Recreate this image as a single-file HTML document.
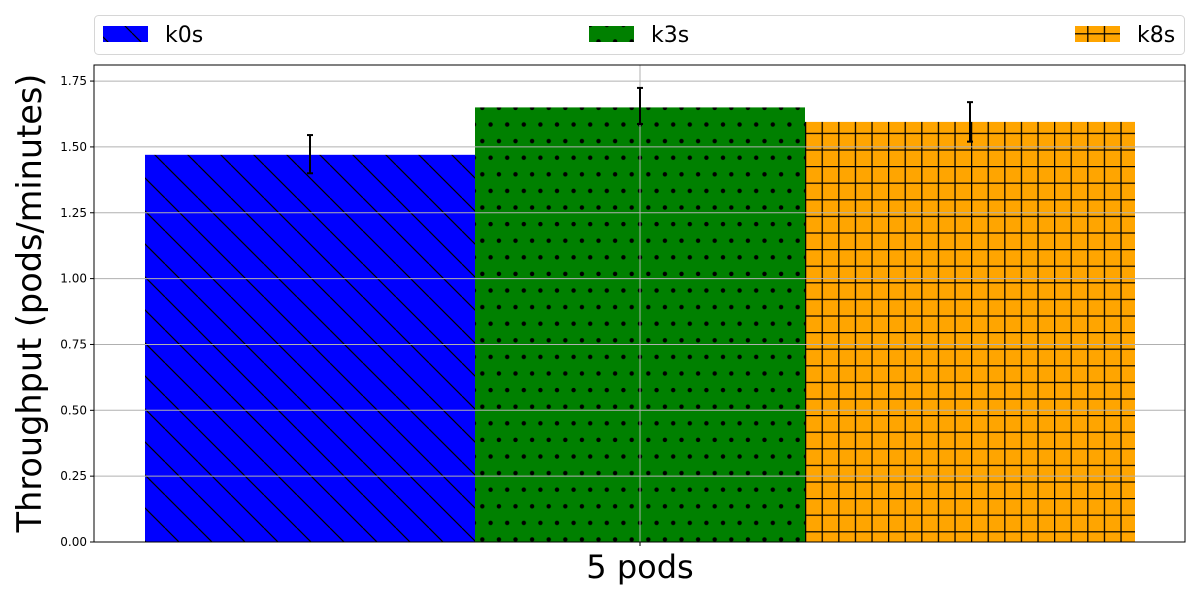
<!DOCTYPE html>
<html><head><meta charset="utf-8"><style>body{margin:0;background:#fff}svg{display:block;font-family:"DejaVu Sans","Liberation Sans",sans-serif}</style></head>
<body>
<svg id="c" width="1200" height="600">
<defs>
<pattern id="pk0" patternUnits="userSpaceOnUse" width="33" height="33"><rect width="33" height="33" fill="#0000ff"/><path d="M0,0L33,33M-33,0L0,33M33,0L66,33" stroke="#000" stroke-width="1.2"/></pattern>
<pattern id="pk3" patternUnits="userSpaceOnUse" x="474" y="0" width="16.6" height="33.2"><rect width="16.6" height="33.2" fill="#008000"/><circle cx="8.3" cy="8.3" r="2.2" fill="#000"/><circle cx="0" cy="24.9" r="2.2" fill="#000"/><circle cx="16.6" cy="24.9" r="2.2" fill="#000"/></pattern>
<pattern id="pk8" patternUnits="userSpaceOnUse" x="805" y="0" width="16.6" height="16.6"><rect width="16.6" height="16.6" fill="#ffa500"/><path d="M0.6,0V16.6M0,0.6H16.6" stroke="#000" stroke-width="1.3"/></pattern>
</defs>
<g id="plot"></g>
</svg>
<script>
const categories=["5 pods"];
const series=["k0s","k3s","k8s"];
const values=[1.47,1.65,1.595];
const errLow=[1.40,1.587,1.52];
const errHigh=[1.545,1.724,1.67];
const yTicks=[0,0.25,0.5,0.75,1.0,1.25,1.5,1.75];
const fills=["url(#pk0)","url(#pk3)","url(#pk8)"];
const legendFills=["url(#pk0)","url(#pk3)","url(#pk8)"];
const NS="http://www.w3.org/2000/svg";
const svg=document.getElementById('c');
const L=94,R=1185,T=65,B=542,ymax=1.811;
const y=v=>B-v/ymax*(B-T);
const groupC=640,barW=330;
const x=i=>groupC+(i-1)*barW-barW/2;
function el(t,a,p){const e=document.createElementNS(NS,t);for(const k in a)e.setAttribute(k,a[k]);(p||svg).appendChild(e);return e;}
series.forEach((s,i)=>{
 const r=el('rect',{x:x(i),y:y(values[i]),width:barW,height:B-y(values[i]),fill:fills[i]});
 
 
});
yTicks.forEach(t=>{
 const g=el('line',{x1:L,x2:R,y1:y(t),y2:y(t),stroke:'#b0b0b0','stroke-width':1});
 
 
 const tk=el('line',{x1:L-4,x2:L,y1:y(t),y2:y(t),stroke:'#000'});
 
 
 const tx=el('text',{x:L-7,y:y(t)+4,'text-anchor':'end','font-size':12});
 tx.textContent=t.toFixed(2);
 
 
});
const vg=el('line',{x1:groupC,x2:groupC,y1:T,y2:B,stroke:'#b0b0b0'});


series.forEach((s,i)=>{
 const cx=x(i)+barW/2;
 const g=el('g',{stroke:'#000','stroke-width':2});
 
 
 el('line',{x1:cx,x2:cx,y1:y(errLow[i]),y2:y(errHigh[i])},g);
 el('line',{x1:cx-3,x2:cx+3,y1:y(errLow[i]),y2:y(errLow[i])},g);
 el('line',{x1:cx-3,x2:cx+3,y1:y(errHigh[i]),y2:y(errHigh[i])},g);
});
const fr=el('rect',{x:L,y:T,width:R-L,height:B-T,fill:'none',stroke:'#000','stroke-width':1});


const xt=el('line',{x1:groupC,x2:groupC,y1:B,y2:B+4,stroke:'#000'});


const xl=el('text',{x:groupC,y:578,'text-anchor':'middle','font-size':32});
xl.textContent=categories[0];


const yl=el('text',{x:0,y:0,'text-anchor':'middle','font-size':33.5,transform:'translate(41,303) rotate(-90)'});
yl.textContent='Throughput (pods/minutes)';


const lg=el('g',{});


el('rect',{x:94.5,y:15.5,width:1090,height:39,rx:4,fill:'#fff',stroke:'#d6d6d6'},lg);
const lx=[103,589,1075];
series.forEach((s,i)=>{
 const e=el('g',{},lg);
 
 
 el('rect',{x:lx[i],y:26,width:45,height:16,fill:legendFills[i]},e);
 const t=el('text',{x:lx[i]+62,y:42,'font-size':22},e);
 t.textContent=s;
});
</script>
</body></html>
